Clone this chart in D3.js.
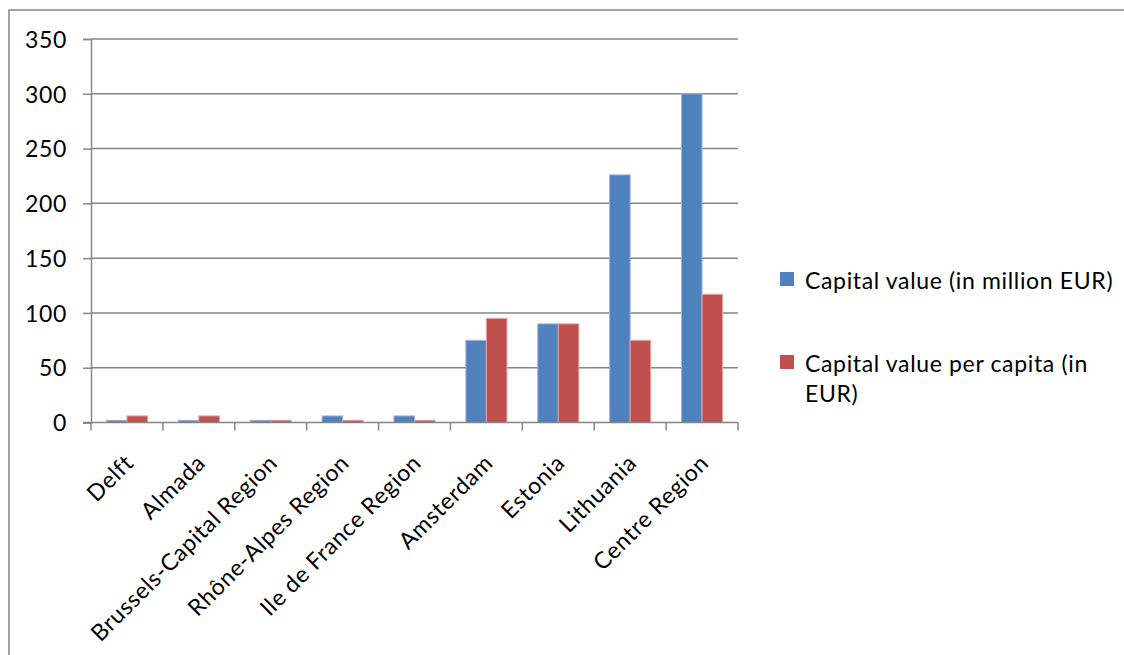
<!DOCTYPE html>
<html>
<head>
<meta charset="utf-8">
<script src="https://cdn.jsdelivr.net/npm/d3@7"></script>
<style>
  html, body { margin: 0; padding: 0; background: #fff; }
  svg { display: block; }
  text { font-family: Lato, "Open Sans", sans-serif; fill: #000; letter-spacing: 0.65px; }
</style>
</head>
<body>
<svg id="chart" width="1124" height="655"></svg>
<script>
// Regions and the two capital-value series
const categories = ["Delft", "Almada", "Brussels-Capital Region", "Rhône-Alpes Region",
  "Ile de France Region", "Amsterdam", "Estonia", "Lithuania", "Centre Region"];
const capitalValue = [2, 2, 2, 6, 6, 75, 90, 226, 300];
const capitalPerCapita = [6, 6, 2, 2, 2, 95, 90, 75, 117];
const seriesNames = ["Capital value (in million EUR)", "Capital value per capita (in EUR)"];
const yTicks = [0, 50, 100, 150, 200, 250, 300, 350];

const series = [
  { name: seriesNames[0], values: capitalValue, fill: "#4F81BD", edge: "#9DB8DC" },
  { name: seriesNames[1], values: capitalPerCapita, fill: "#C0504D", edge: "#E2A3A1" }
];

const svg = d3.select("#chart");
const plot = { left: 91, right: 738, top: 39, bottom: 422.5 };
const gridColor = "#868686";

// Outer chart frame (runs off the right and bottom edges)
svg.append("rect")
  .attr("x", 9).attr("y", 10)
  .attr("width", 1300).attr("height", 800)
  .attr("fill", "none").attr("stroke", gridColor).attr("stroke-width", 1.5);

const x0 = d3.scaleBand().domain(categories).range([plot.left, plot.right]).padding(0);
const x1 = d3.scaleBand().domain(series.map(s => s.name))
  .range([0, x0.bandwidth()]).paddingInner(0).paddingOuter(0.75);
const y = d3.scaleLinear().domain([0, 350]).range([plot.bottom, plot.top]);

// Horizontal gridlines
svg.append("g").selectAll("line").data(yTicks.filter(t => t > 0)).join("line")
  .attr("x1", plot.left).attr("x2", plot.right)
  .attr("y1", d => y(d)).attr("y2", d => y(d))
  .attr("stroke", gridColor).attr("stroke-width", 1.5);

// Bars
const groups = svg.append("g").selectAll("g").data(categories).join("g")
  .attr("transform", d => `translate(${x0(d)},0)`);
series.forEach(s => {
  groups.append("rect")
    .attr("x", x1(s.name))
    .attr("width", x1.bandwidth())
    .attr("y", (d, i) => y(s.values[i]))
    .attr("height", (d, i) => y(0) - y(s.values[i]))
    .attr("fill", s.fill)
    .attr("stroke", s.edge).attr("stroke-width", 1);
});

// Y axis
const yAxis = svg.append("g").attr("transform", `translate(${plot.left},0)`)
  .call(d3.axisLeft(y).tickValues(yTicks).tickSize(8).tickPadding(0).tickFormat(d3.format("d")));
yAxis.select(".domain").attr("stroke", gridColor).attr("stroke-width", 1.5);
yAxis.selectAll(".tick line").attr("stroke", gridColor).attr("stroke-width", 1.5);
yAxis.selectAll(".tick text")
  .attr("x", -24).attr("dy", "0.36em")
  .style("font-size", "23px").style("font-family", "Lato, sans-serif").attr("fill", "#000");

// X axis with category-boundary ticks
const xAxis = svg.append("g").attr("transform", `translate(0,${plot.bottom})`);
xAxis.append("line")
  .attr("x1", plot.left - 8).attr("x2", plot.right)
  .attr("stroke", gridColor).attr("stroke-width", 1.5);
const boundaries = categories.map(c => x0(c)).concat([plot.right]);
xAxis.selectAll("line.tk").data(boundaries).join("line").attr("class", "tk")
  .attr("x1", d => d).attr("x2", d => d).attr("y1", 0).attr("y2", 8)
  .attr("stroke", gridColor).attr("stroke-width", 1.5);

// Rotated category labels
svg.append("g").selectAll("text").data(categories).join("text")
  .attr("transform", d => `translate(${x0(d) + x0.bandwidth() / 2 + 8},${plot.bottom + 42}) rotate(-45)`)
  .attr("text-anchor", "end")
  .style("font-size", "23px")
  .text(d => d);

// Legend
const legend = svg.append("g");
const legendRows = [
  { color: series[0].fill, lines: ["Capital value (in million EUR)"], y: 272 },
  { color: series[1].fill, lines: ["Capital value per capita (in", "EUR)"], y: 355 }
];
legendRows.forEach(r => {
  legend.append("rect").attr("x", 780).attr("y", r.y).attr("width", 14).attr("height", 14)
    .attr("fill", r.color);
  const t = legend.append("text").attr("x", 805).attr("y", r.y + 17).style("font-size", "23px");
  r.lines.forEach((ln, i) => {
    t.append("tspan").attr("x", 805).attr("dy", i === 0 ? 0 : 30).text(ln);
  });
});
</script>
</body>
</html>
